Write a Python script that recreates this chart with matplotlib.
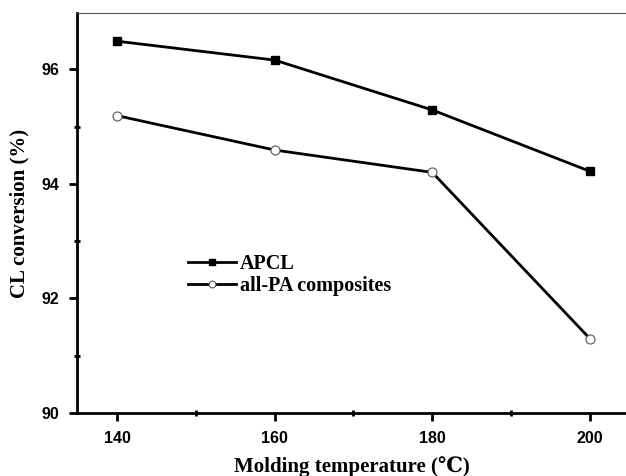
import matplotlib
matplotlib.use("Agg")
import matplotlib.pyplot as plt
from matplotlib.ticker import MultipleLocator

# molding temperature (deg C) and caprolactam conversion (%)
temperature = [140, 160, 180, 200]
apcl = [96.49, 96.16, 95.29, 94.22]
all_pa = [95.19, 94.59, 94.20, 91.30]

serif = ["Liberation Serif", "DejaVu Serif"]

fig = plt.figure(figsize=(6.26, 4.76), dpi=100)
ax = fig.add_axes([0.123, 0.1324, 0.877, 0.840])

ax.plot(temperature, apcl, color="black", lw=2, marker="s", ms=6,
        mfc="black", mec="black", label="APCL")
ax.plot(temperature, all_pa, color="black", lw=2, marker="o", ms=6.5,
        mfc="white", mec="#555555", mew=0.8, label="all-PA composites")

ax.set_xlim(134.9, 204.6)
ax.set_ylim(90, 96.98)
ax.xaxis.set_major_locator(MultipleLocator(20))
ax.xaxis.set_minor_locator(MultipleLocator(10))
ax.yaxis.set_major_locator(MultipleLocator(2))
ax.yaxis.set_minor_locator(MultipleLocator(1))

# heavy left/bottom axes, thin grey top line, no right axis
for side in ("left", "bottom"):
    ax.spines[side].set_linewidth(2)
ax.spines["top"].set_linewidth(0.8)
ax.spines["top"].set_color("#555555")
ax.spines["right"].set_visible(False)

ax.tick_params(which="major", direction="out", length=6, width=2,
               top=False, right=False)
ax.tick_params(axis="x", which="major", pad=7)
ax.tick_params(axis="y", which="major", pad=7)
ax.tick_params(which="minor", direction="inout", length=5, width=2,
               top=False, right=False)
for lbl in ax.get_xticklabels() + ax.get_yticklabels():
    lbl.set_family("Liberation Sans")
    lbl.set_fontweight("bold")
    lbl.set_fontsize(11.5)

ax.set_xlabel("Molding temperature (℃)", family=serif, fontweight="bold",
              fontsize=15, labelpad=7)
ax.set_ylabel("CL conversion (%)", family=serif, fontweight="bold",
              fontsize=15, labelpad=8)

ax.legend(loc="upper left", bbox_to_anchor=(0.202, 0.3975), frameon=False,
          borderaxespad=0, borderpad=0, markerscale=0.75,
          handlelength=2.4, handletextpad=0.2, labelspacing=0.08,
          prop={"family": serif, "weight": "bold", "size": 14.5})

plt.savefig("out.png", dpi=100)
